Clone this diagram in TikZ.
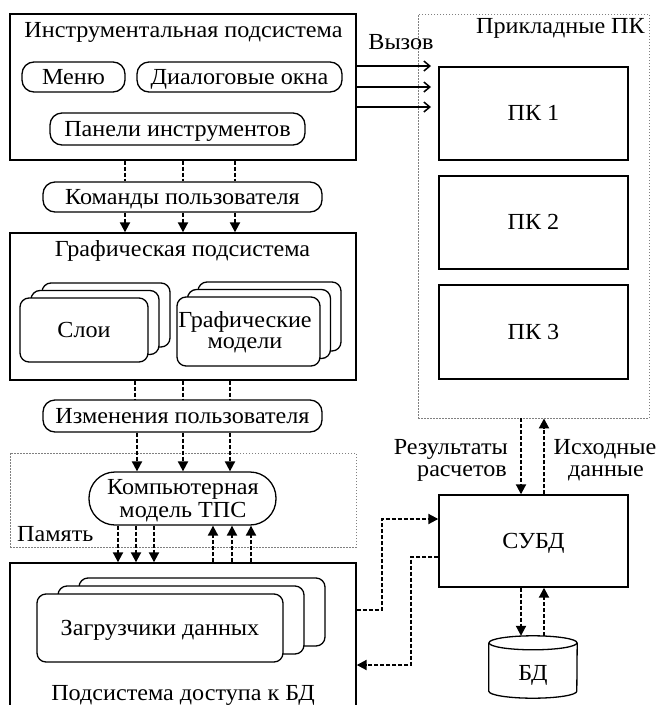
\documentclass[tikz,border=0pt]{standalone}
\usepackage{fontspec}
\setmainfont{Liberation Serif}[FakeStretch=1.05]
\usetikzlibrary{arrows.meta,calc}
\newcommand\dfs{\fontsize{23}{26}\selectfont}
\begin{document}
\begin{tikzpicture}[x=1pt,y=-1pt,
  every node/.style={font=\dfs, inner sep=0pt},
  box/.style={draw, line width=1.4pt, rectangle},
  pill/.style={draw, line width=1.3pt, rounded corners=12pt, text height=14pt, text depth=0pt},
  card/.style={draw, line width=1.3pt, rounded corners=9pt, fill=white},
  frame/.style={draw=gray, line width=0.9pt, dash pattern=on 1.5pt off 1.5pt},
  dl/.style={line width=2pt, dash pattern=on 4pt off 2pt},
  tri/.style={-{Triangle[length=10pt,width=10pt]}},
  call/.style={line width=1.5pt, -{Straight Barb[length=6pt,width=10pt]}},
  txt/.style={anchor=base},
  ctext/.style={text height=14pt, text depth=0pt}]
\clip (0,0) rectangle (658,705);

% Instrumental subsystem
\node[box, minimum width=346pt, minimum height=146pt] (instr) at (183,87) {};
\node[txt] (instrT) at (183.5,37) {Инструментальная подсистема};
\node[pill, minimum width=103pt, minimum height=30pt] (menu) at (73.5,77) {Меню};
\node[pill, minimum width=205pt, minimum height=30pt] (dlg) at (239.5,77) {Диалоговые окна};
\node[pill, minimum width=255pt, minimum height=32pt] (pan) at (177.5,129) {Панели инструментов};
\node[pill, minimum width=279pt, minimum height=30pt] (cmd) at (182.5,197) {Команды пользователя};

% Graphic subsystem
\node[box, minimum width=346pt, minimum height=147pt] (gr) at (183,306.5) {};
\node[txt] (grT) at (182.5,256) {Графическая подсистема};
\node[card, minimum width=128pt, minimum height=64pt] (sl3) at (106,315) {};
\node[card, minimum width=128pt, minimum height=64pt] (sl2) at (95,322.5) {};
\node[card, ctext, minimum width=128pt, minimum height=64pt] (sl1) at (84,330) {Слои};
\node[card, minimum width=143pt, minimum height=69pt] (gm3) at (269.5,316.5) {};
\node[card, minimum width=143pt, minimum height=69pt] (gm2) at (259,324) {};
\node[card, minimum width=143pt, minimum height=69pt] (gm1) at (248.5,331.5) {};
\node[txt] (gmA) at (245,327) {Графические};
\node[txt] (gmB) at (245,348) {модели};

\node[pill, minimum width=279pt, minimum height=32pt] (chg) at (182.5,416) {Изменения пользователя};

% Memory
\node[frame, minimum width=346pt, minimum height=94pt] (mem) at (183,500) {};
\node[txt, anchor=base west] (memT) at (17,541) {Память};
\node[draw, line width=1.3pt, rounded corners=26pt, minimum width=187pt, minimum height=53pt] (comp) at (182.5,498.5) {};
\node[txt] (compA) at (183,494) {Компьютерная};
\node[txt] (compB) at (183,517) {модель ТПС};

% DB access subsystem
\node[box, minimum width=346pt, minimum height=160pt] (acc) at (183,643) {};
\node[card, minimum width=246pt, minimum height=68pt] (ld3) at (202,612) {};
\node[card, minimum width=246pt, minimum height=68pt] (ld2) at (181,620) {};
\node[card, ctext, minimum width=246pt, minimum height=68pt] (ld1) at (160,628) {Загрузчики данных};
\node[txt] (accT) at (183,700) {Подсистема доступа к БД};

% Applied packages
\node[frame, minimum width=231pt, minimum height=404pt] (app) at (533.5,216) {};
\node[txt, anchor=base east] (appT) at (645,33) {Прикладные ПК};
\node[box, ctext, minimum width=189pt, minimum height=93pt] (pk1) at (533.5,113.5) {ПК 1};
\node[box, ctext, minimum width=189pt, minimum height=93pt] (pk2) at (533.5,222.5) {ПК 2};
\node[box, ctext, minimum width=189pt, minimum height=94pt] (pk3) at (533.5,332) {ПК 3};

\node[box, ctext, minimum width=189pt, minimum height=92pt] (subd) at (533.5,541) {СУБД};

% Database cylinder
\node[minimum width=88pt, minimum height=62pt] (bd) at (533,667) {};
\node[txt] (bdT) at (533,680) {БД};
\draw[line width=1.3pt] ($(bd.north)+(0,7)$) ellipse [x radius=44pt, y radius=7pt];
\draw[line width=1.3pt] ($(bd.north west)+(0,7)$) -- ($(bd.south west)+(0,-7)$)
  arc[start angle=180, end angle=360, x radius=44pt, y radius=7pt] -- ($(bd.north east)+(0,7)$);

% Labels
\node[txt] (callT) at (401,49) {Вызов};
\node[txt, anchor=base east] (resA) at (508,454) {Результаты};
\node[txt, anchor=base east] (resB) at (507,476) {расчетов};
\node[txt] (srcA) at (605,454) {Исходные};
\node[txt] (srcB) at (606,476) {данные};

% Call arrows
\coordinate (c1) at (431,66);
\coordinate (c2) at (431,87);
\coordinate (c3) at (431,107);
\draw[call] (instr.east |- c1) -- (c1);
\draw[call] (instr.east |- c2) -- (c2);
\draw[call] (instr.east |- c3) -- (c3);

% Vertical flows
\foreach \x in {125,183,235} {
  \draw[dl] (\x,0 |- instr.south) -- (\x,0 |- cmd.north);
  \draw[dl,tri] (\x,0 |- cmd.south) -- (\x,0 |- gr.north);
}
\foreach \x in {135,183,230} \draw[dl] (\x,0 |- gr.south) -- (\x,0 |- chg.north);
\foreach \x in {137,183,230} \draw[dl,tri] (\x,0 |- chg.south) -- (\x,0 |- comp.north);
\foreach \x in {118,136,154} \draw[dl,tri] (\x,0 |- comp.south) -- (\x,0 |- acc.north);
\foreach \x in {213,232,251} \draw[dl,tri] (\x,0 |- acc.north) -- (\x,0 |- comp.south);

\draw[dl,tri] (521,0 |- app.south) -- (521,0 |- subd.north);
\draw[dl,tri] (544,0 |- subd.north) -- (544,0 |- app.south);
\draw[dl,tri] (521,0 |- subd.south) -- (521,0 |- bd.north);
\draw[dl,tri] (544,0 |- bd.north) -- (544,0 |- subd.south);

% Side connections
\coordinate (k1) at (382,610);
\coordinate (k2) at (382,519);
\draw[dl,tri] (acc.east |- k1) -- (k1) -- (k2) -- (subd.west |- k2);
\coordinate (k3) at (411,557);
\coordinate (k4) at (411,665);
\draw[dl,tri] (subd.west |- k3) -- (k3) -- (k4) -- (acc.east |- k4);
\end{tikzpicture}
\end{document}
